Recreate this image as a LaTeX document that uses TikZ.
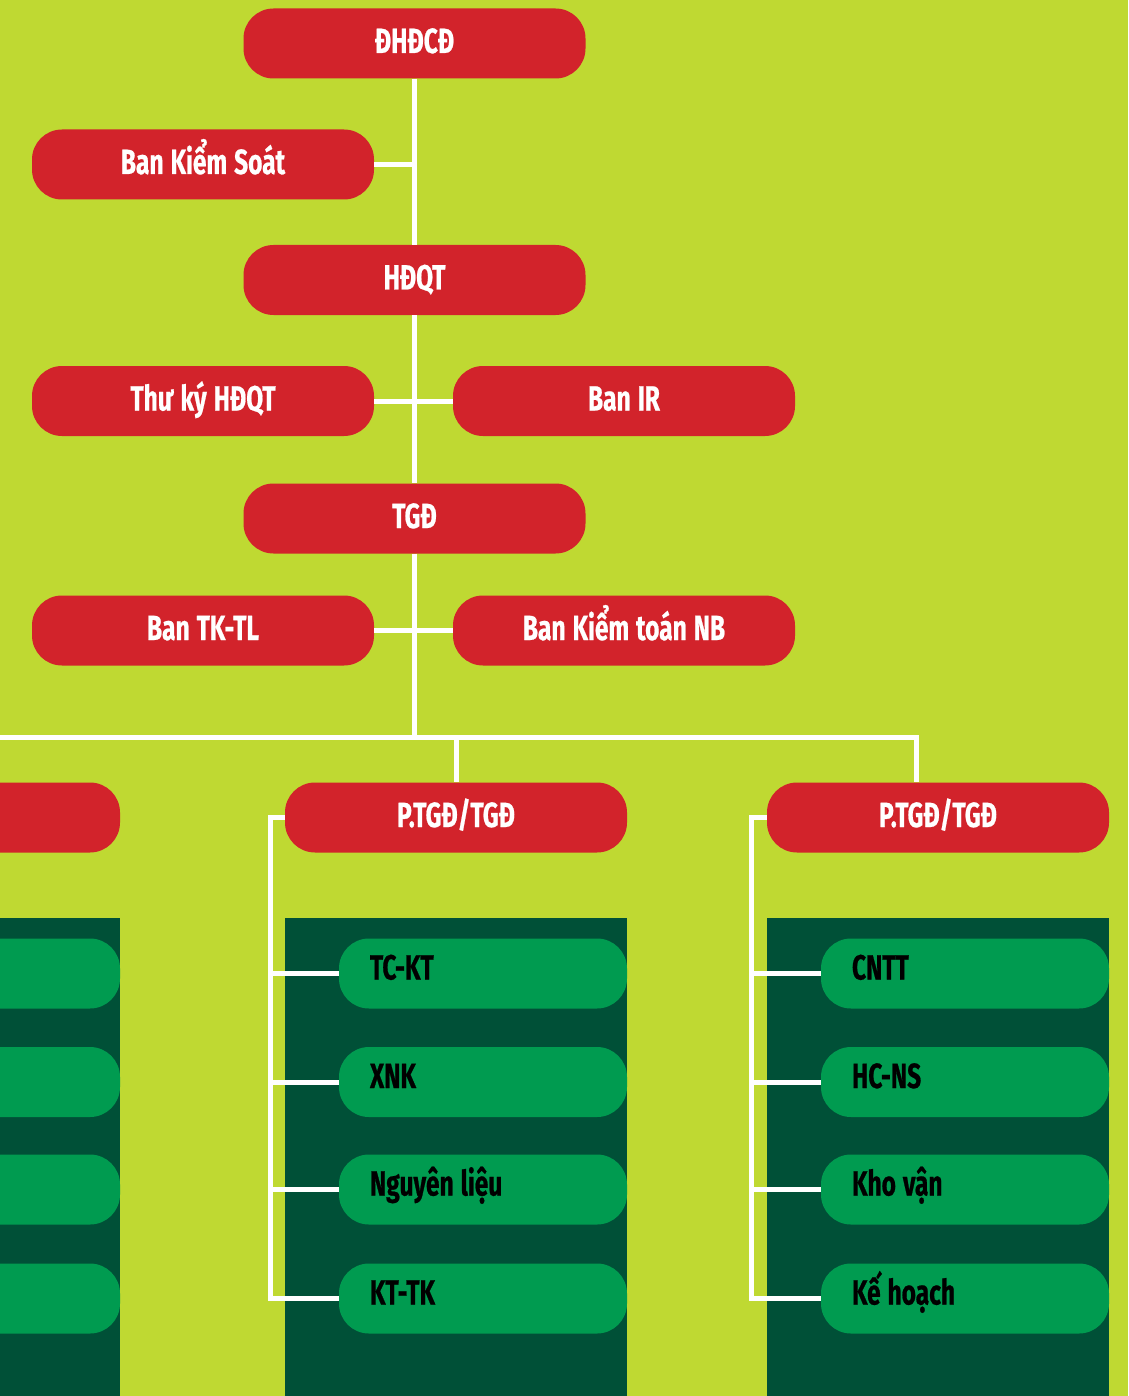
\documentclass[tikz,border=0pt]{standalone}
\usepackage{fontspec}
\setmainfont{Fira Sans}[FakeStretch=0.7,WordSpace=1.2,BoldFeatures={FakeBold=0.6}]
\definecolor{bglime}{RGB}{191,217,50}
\definecolor{boxred}{RGB}{210,35,43}
\definecolor{darkgr}{RGB}{0,80,55}
\definecolor{boxgr}{RGB}{0,155,80}
\tikzset{
  redbox/.style={fill=boxred, rounded corners=30pt, minimum width=342pt, minimum height=70pt,
    inner sep=0pt, text height=24pt, text depth=5pt, text=white, font=\bfseries\fontsize{35}{40}\selectfont},
  grbox/.style={fill=boxgr, rounded corners=30pt, minimum width=288pt, minimum height=70pt,
    inner xsep=0pt, inner ysep=0pt, text width=226pt, text height=24pt, text depth=12pt,
    align=left, text=black, font=\bfseries\fontsize{35}{40}\selectfont,
    execute at begin node={\spaceskip=0pt\xspaceskip=0pt\relax}},
  panel/.style={fill=darkgr},
  wl/.style={draw=white, line width=5pt}
}
\begin{document}
\begin{tikzpicture}[x=1pt,y=-1pt]
\useasboundingbox (0,0) rectangle (1128,1396);
\clip (0,0) rectangle (1128,1396);
\fill[bglime] (0,0) rectangle (1128,1396);
% panels
\fill[panel] (-10,918) rectangle (120,1400);
\fill[panel] (285,918) rectangle (627,1400);
\fill[panel] (767,918) rectangle (1109,1400);
% red boxes
\node[redbox] (dhdcd) at (414.5,43.5) {ĐHĐCĐ};
\node[redbox] (bks) at (203,164.5) {Ban Kiểm Soát};
\node[redbox] (hdqt) at (414.5,280) {HĐQT};
\node[redbox] (tky) at (203,401) {Thư ký HĐQT};
\node[redbox] (banir) at (624,401) {Ban IR};
\node[redbox] (tgd) at (414.5,518.5) {TGĐ};
\node[redbox] (tktl) at (203,630.5) {Ban TK-TL};
\node[redbox] (ktnb) at (624,630.5) {Ban Kiểm toán NB};
\node[redbox] (pl) at (-51,817.5) {};
\node[redbox] (pm) at (456,817.5) {P.TGĐ/TGĐ};
\node[redbox] (pr) at (938,817.5) {P.TGĐ/TGĐ};
% green boxes
\node[grbox] (m1) at (483,973.5) {TC-KT};
\node[grbox] (m2) at (483,1082) {XNK};
\node[grbox] (m3) at (483,1189.5) {Nguyên liệu};
\node[grbox] (m4) at (483,1298.5) {KT-TK};
\node[grbox] (r1) at (965,973.5) {CNTT};
\node[grbox] (r2) at (965,1082) {HC-NS};
\node[grbox] (r3) at (965,1189.5) {Kho vận};
\node[grbox] (r4) at (965,1298.5) {Kế hoạch};
\node[grbox] (l1) at (-24,973.5) {};
\node[grbox] (l2) at (-24,1082) {};
\node[grbox] (l3) at (-24,1189.5) {};
\node[grbox] (l4) at (-24,1298.5) {};
% connectors
\coordinate (hub) at (414.5,737);
\coordinate (hl) at (-10,737);
\coordinate (mm) at (456,737);
\coordinate (rr) at (916,737);
\coordinate (mspine) at (270,817.5);
\coordinate (rspine) at (751,817.5);
\draw[wl] (dhdcd.south) -- (hdqt.north);
\draw[wl] (hdqt.south) -- (tgd.north);
\draw[wl] (tgd.south) -- (hub);
\draw[wl] (bks.east) -- (bks.east -| dhdcd.south);
\draw[wl] (tky.east) -- (banir.west);
\draw[wl] (tktl.east) -- (ktnb.west);
\draw[wl] (hl) -- (mm) -- (rr) -- (rr |- pr.north);
\draw[wl] (mm) -- (pm.north);
\draw[wl] (pm.west) -- (mspine) -- (mspine |- m4.west) -- (m4.west);
\draw[wl] (m1.west -| mspine) -- (m1.west);
\draw[wl] (m2.west -| mspine) -- (m2.west);
\draw[wl] (m3.west -| mspine) -- (m3.west);
\draw[wl] (pr.west) -- (rspine) -- (rspine |- r4.west) -- (r4.west);
\draw[wl] (r1.west -| rspine) -- (r1.west);
\draw[wl] (r2.west -| rspine) -- (r2.west);
\draw[wl] (r3.west -| rspine) -- (r3.west);
\end{tikzpicture}
\end{document}
